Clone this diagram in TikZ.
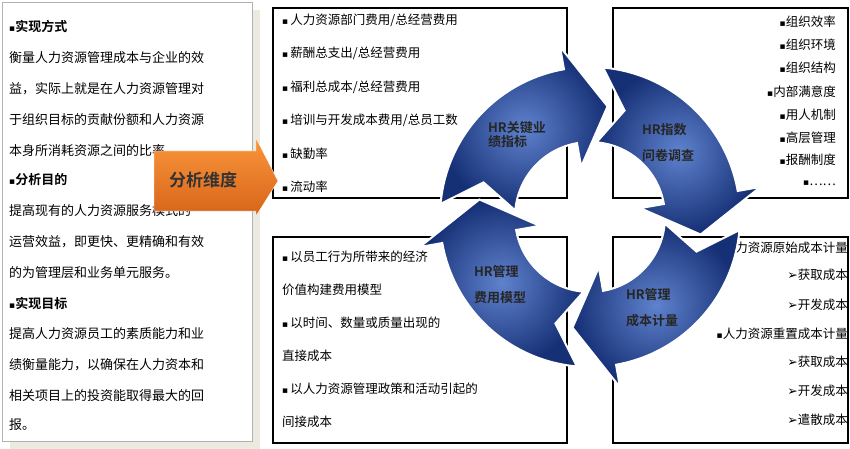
\documentclass[tikz,border=0pt]{standalone}
\usepackage{fontspec}
\setmainfont{Noto Sans CJK SC}[BoldFont={* Bold}]
\newfontfamily\symfont{DejaVu Sans}
\usetikzlibrary{calc}
\definecolor{shadowbeige}{RGB}{236,233,224}
\definecolor{cyclight}{RGB}{95,130,205}
\definecolor{cycdark}{RGB}{22,48,118}
\definecolor{orangetop}{RGB}{250,150,60}
\definecolor{orangebot}{RGB}{215,100,25}
\newcommand{\sq}{{\symfont\small ▪}}
\newcommand{\ar}{{\symfont ➢}}
\tikzset{
  item/.style={anchor=west,inner sep=0pt,font=\fontsize{12.5}{14}\selectfont},
  ritem/.style={anchor=east,inner sep=0pt,font=\fontsize{12.5}{14}\selectfont},
  ltext/.style={anchor=west,inner sep=0pt,font=\fontsize{13}{15}\selectfont},
  quad/.style={draw,line width=1.2pt},
  cyc/.style={draw=white,line width=2pt,inner color=cyclight,outer color=cycdark},
  cyclabel/.style={align=left,font=\fontsize{13}{26}\selectfont\bfseries,text=black!85}
}
\begin{document}
\begin{tikzpicture}[x=1pt,y=-1pt]
\useasboundingbox (0,0) rectangle (850,449);
% left box with shadow
\fill[shadowbeige] (10,10) rectangle (260,449);
\draw[black!30,fill=white] (2,2) rectangle (252,441);
\foreach \t/\y [count=\i] in {{\bfseries\sq 实现方式}/27,衡量人力资源管理成本与企业的效/58,益，实际上就是在人力资源管理对/89,于组织目标的贡献份额和人力资源/120,本身所消耗资源之间的比率/151,{\bfseries\sq 分析目的}/180,提高现有的人力资源服务模式的/211,运营效益，即更快、更精确和有效/242,的为管理层和业务单元服务。/273,{\bfseries\sq 实现目标}/303,提高人力资源员工的素质能力和业/334,绩衡量能力，以确保在人力资本和/365,相关项目上的投资能取得最大的回/396,报。/425}
  \node[ltext] (left\i) at (9,\y) {\t};
% four quadrant boxes
\draw[quad] (273,8) rectangle (567,198);
\draw[quad] (613,8) rectangle (848,198);
\draw[quad] (273,237) rectangle (567,443);
\draw[quad] (613,237) rectangle (848,443);
\foreach \t/\y [count=\i] in {{人力资源部门费用/总经营费用}/20,{薪酬总支出/总经营费用}/53,{福利总成本/总经营费用}/87,{培训与开发成本费用/总员工数}/120,缺勤率/154,流动率/187}
  \node[item] (tl\i) at (282,\y) {\sq\,\t};
\foreach \t/\y [count=\i] in {组织效率/22,组织环境/45,组织结构/68,内部满意度/92,用人机制/115,高层管理/138,报酬制度/160,……/183}
  \node[ritem] (tr\i) at (836,\y) {\sq\t};
\foreach \t/\y [count=\i] in {{\sq\,以员工行为所带来的经济}/257,价值构建费用模型/290,{\sq\,以时间、数量或质量出现的}/323,直接成本/356,{\sq\,以人力资源管理政策和活动引起的}/389,间接成本/422}
  \node[item] (bl\i) at (282,\y) {\t};
\foreach \t/\y [count=\i] in {{\sq 人力资源原始成本计量}/248,{\ar 获取成本}/275,{\ar 开发成本}/305,{\sq 人力资源重置成本计量}/334,{\ar 获取成本}/362,{\ar 开发成本}/391,{\ar 遣散成本}/420}
  \node[ritem] (br\i) at (848,\y) {\t};
% orange arrow
\path[draw=white,top color=orangetop,bottom color=orangebot]
  (154,151) -- (256,151) -- (256,138) -- (278,181) -- (256,216) -- (256,211) -- (154,211) -- cycle;
\node[font=\fontsize{17}{20}\selectfont\bfseries,text=black!80] (dim) at (203,180) {分析维度};
% cycle arrows
\coordinate (c) at (590,217);
\foreach \a in {185,275,365,455}{
  \pgfmathsetmacro{\b}{\a+75}
  \path[cyc] ($(c)+(\a:150)$) arc[start angle=\a,end angle=\b,radius=150]
    -- ($(c)+(\b:173)$) -- ($(c)+(\b+19:112)$) -- ($(c)+(\b:51)$) -- ($(c)+(\b:75)$)
    arc[start angle=\b,end angle=\a,radius=75] -- ($(c)+(\a+13:112)$) -- cycle;
}
\node[cyclabel] (kpi) at (517,135) {HR关键业\\[-12pt]绩指标};
\node[cyclabel] (idx) at (668,143) {HR指数\\问卷调查};
\node[cyclabel] (fee) at (500,285) {HR管理\\费用模型};
\node[cyclabel] (cost) at (652,308) {HR管理\\成本计量};
\end{tikzpicture}
\end{document}
